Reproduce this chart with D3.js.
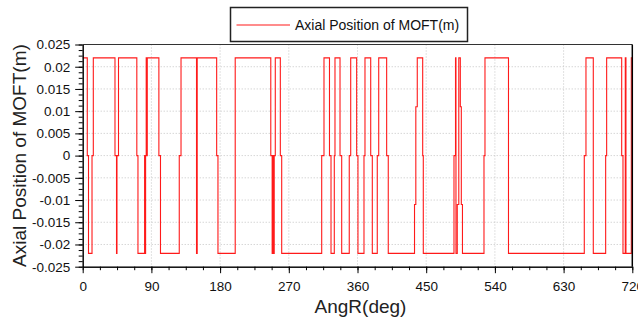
<!DOCTYPE html>
<html>
<head>
<meta charset="utf-8">
<script src="https://cdn.jsdelivr.net/npm/d3@7"></script>
<style>
  body { margin: 0; background: #fff; }
  svg { display: block; font-family: "Liberation Sans", Arial, sans-serif; }
  .grid line { stroke: #c4c4c4; stroke-dasharray: 1,2; }
  .axis path, .axis line { stroke: #000; }
  .axis text { fill: #111; font-size: 13.5px; }
</style>
</head>
<body>
<div id="chart"></div>
<script>
// step signal: value holds from each angle until the next one
const angles = [
  0, 6.0, 7.6, 12.2, 13.9, 42.3, 44.3, 44.9, 46.9, 70.9, 72.4, 81.1, 81.9, 82.4,
  83.2, 84.0, 84.6, 99.8, 101.9, 126.5, 128.8, 149.1, 150.0, 175.5, 177.2, 199.8,
  246.4, 248.2, 249.0, 249.7, 250.9, 252.3, 258.9, 260.7, 313.1, 316.1, 323.3,
  325.3, 329.6, 330.5, 337.1, 339.3, 349.2, 351.1, 358.9, 360.6, 368.5, 369.8,
  377.3, 379.4, 385.9, 387.8, 398.2, 400.3, 434.7, 436.4, 438.3, 445.4, 446.2,
  486.4, 488.4, 489.0, 490.7, 492.7, 494.7, 496.0, 497.5, 525.7, 527.0, 557.8,
  657.1, 659.3, 668.9, 685.1, 686.4, 706.1, 707.8, 710.8, 711.7, 718.7, 720
];
const positions = [
  0.022, 0, -0.022, 0, 0.022, 0, -0.022, 0, 0.022, 0, -0.022, 0, -0.022, 0,
  0.022, 0, 0.022, 0, -0.022, 0, 0.022, -0.022, 0.022, 0, -0.022, 0.022,
  0, -0.022, 0, -0.022, 0, 0.022, 0, -0.022, 0, 0.022, 0,
  -0.022, 0, 0.022, 0, -0.022, 0, 0.022, 0, -0.022, 0, 0.022,
  0, -0.022, 0, 0.022, 0, -0.022, -0.011, 0.011, 0.022, 0, -0.022,
  0, 0.022, -0.022, -0.011, 0.022, 0.011, -0.011, -0.022, 0, 0.022, -0.022,
  0, 0.022, -0.022, 0, 0.022, 0, -0.022, 0.022, -0.022, 0.022, 0.022
];

const xTicks = [0, 90, 180, 270, 360, 450, 540, 630, 720];
const yTicks = [-0.025, -0.02, -0.015, -0.01, -0.005, 0, 0.005, 0.01, 0.015, 0.02, 0.025];
const xTitle = "AngR(deg)";
const yTitle = "Axial Position of MOFT(m)";
const seriesName = "Axial Position of MOFT(m)";

const width = 638, height = 320;
const plot = { left: 82.7, right: 632.3, top: 44.5, bottom: 266.7 };

const svg = d3.select("#chart").append("svg")
  .attr("width", width)
  .attr("height", height);

const x = d3.scaleLinear().domain([0, 720]).range([plot.left, plot.right]);
const y = d3.scaleLinear().domain([-0.025, 0.025]).range([plot.bottom, plot.top]);

// dotted grid
const grid = svg.append("g").attr("class", "grid");
grid.selectAll(".gx")
  .data(xTicks.slice(1, -1))
  .join("line")
  .attr("x1", (d) => x(d)).attr("x2", (d) => x(d))
  .attr("y1", plot.top).attr("y2", plot.bottom);
grid.selectAll(".gy")
  .data(yTicks.slice(1, -1))
  .join("line")
  .attr("class", "gy")
  .attr("y1", (d) => y(d)).attr("y2", (d) => y(d))
  .attr("x1", plot.left).attr("x2", plot.right);

// series
const points = angles.map((a, i) => [a, positions[i]]);
const line = d3.line()
  .x((d) => x(d[0]))
  .y((d) => y(d[1]))
  .curve(d3.curveStepAfter);

svg.append("path")
  .datum(points)
  .attr("fill", "none")
  .attr("stroke", "#ff1a1a")
  .attr("stroke-width", 1.1)
  .attr("d", line);

// frame top / right
svg.append("line")
  .attr("x1", plot.left).attr("x2", plot.right)
  .attr("y1", plot.top).attr("y2", plot.top)
  .attr("stroke", "#333");
svg.append("line")
  .attr("x1", plot.right).attr("x2", plot.right)
  .attr("y1", plot.top).attr("y2", plot.bottom)
  .attr("stroke", "#000").attr("stroke-width", 1.5);

// minor ticks
const xMinor = d3.range(0, 720.1, 22.5);
const yMinor = d3.range(-0.025, 0.02501, 0.00125);
svg.append("g")
  .attr("class", "axis")
  .attr("transform", `translate(0,${plot.bottom})`)
  .call(d3.axisBottom(x).tickValues(xMinor).tickSize(3.5).tickSizeOuter(0).tickFormat(""));
svg.append("g")
  .attr("class", "axis")
  .attr("transform", `translate(${plot.left},0)`)
  .call(d3.axisLeft(y).tickValues(yMinor).tickSize(4).tickSizeOuter(0).tickFormat(""));

// major ticks + labels
svg.append("g")
  .attr("class", "axis")
  .attr("transform", `translate(0,${plot.bottom})`)
  .call(d3.axisBottom(x).tickValues(xTicks).tickSize(6.5).tickSizeOuter(0).tickPadding(8.5)
    .tickFormat((d) => String(d)));
svg.append("g")
  .attr("class", "axis")
  .attr("transform", `translate(${plot.left},0)`)
  .call(d3.axisLeft(y).tickValues(yTicks).tickSize(7.5).tickSizeOuter(0).tickPadding(5)
    .tickFormat((d) => String(d)));

// axis titles
svg.append("text")
  .attr("x", (plot.left + plot.right) / 2 + 3)
  .attr("y", 313)
  .attr("text-anchor", "middle")
  .attr("font-size", 19)
  .attr("fill", "#222")
  .text(xTitle);
svg.append("text")
  .attr("transform", `translate(26,${(plot.top + plot.bottom) / 2}) rotate(-90)`)
  .attr("text-anchor", "middle")
  .attr("font-size", 19)
  .attr("fill", "#222")
  .text(yTitle);

// legend
const legend = svg.append("g");
legend.append("rect")
  .attr("x", 230.5).attr("y", 7.5)
  .attr("width", 237).attr("height", 34)
  .attr("fill", "#fff")
  .attr("stroke", "#222")
  .attr("stroke-width", 1.5);
legend.append("line")
  .attr("x1", 236.5).attr("x2", 290)
  .attr("y1", 25).attr("y2", 25)
  .attr("stroke", "#ff1a1a").attr("stroke-width", 1.1);
legend.append("text")
  .attr("x", 295).attr("y", 30)
  .attr("font-size", 14)
  .attr("fill", "#111")
  .text(seriesName);
</script>
</body>
</html>
